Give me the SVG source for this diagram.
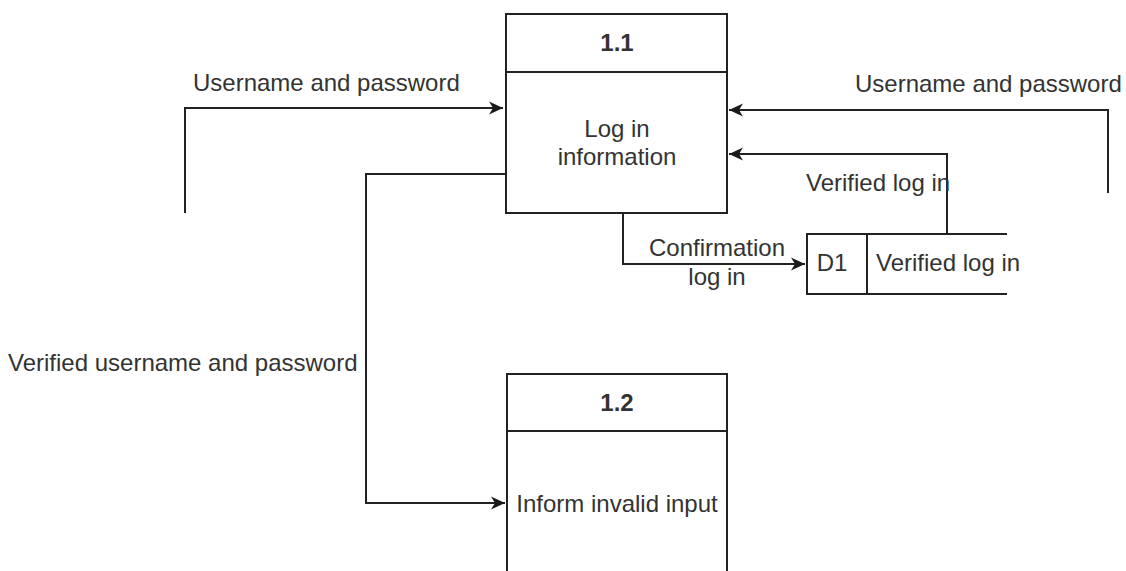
<svg xmlns="http://www.w3.org/2000/svg" width="1126" height="571" viewBox="0 0 1126 571">
  <style>
    .box { fill: #ffffff; stroke: #222222; stroke-width: 2; }
    .wire { fill: none; stroke: #222222; stroke-width: 2; }
    .lbl { font-family: "Liberation Sans", Arial, sans-serif; font-size: 24px; fill: #333333; }
    .mid { text-anchor: middle; }
    .bold { font-weight: bold; }
  </style>
  <defs>
    <marker id="arrow" markerUnits="userSpaceOnUse" markerWidth="15" markerHeight="14" refX="14" refY="7" orient="auto">
      <path d="M0,0.5 L14,7 L0,13.5 L4,7 Z" fill="#1a1a1a"/>
    </marker>
  </defs>

  <rect x="0" y="0" width="1126" height="571" fill="#ffffff"/>

  <!-- Process 1.1 -->
  <g id="process-1-1">
    <rect class="box" x="506" y="14" width="221" height="199"/>
    <line class="wire" x1="506" y1="72" x2="727" y2="72"/>
    <text class="lbl mid bold" x="617" y="51">1.1</text>
    <text class="lbl mid" x="617" y="137">Log in</text>
    <text class="lbl mid" x="617" y="165">information</text>
  </g>

  <!-- Process 1.2 -->
  <g id="process-1-2">
    <rect class="box" x="507" y="374" width="220" height="220"/>
    <line class="wire" x1="507" y1="431" x2="727" y2="431"/>
    <text class="lbl mid bold" x="617" y="411">1.2</text>
    <text class="lbl mid" x="617" y="512">Inform invalid input</text>
  </g>

  <!-- Data store D1 -->
  <g id="store-d1">
    <path class="wire" d="M1007,234 L807,234 L807,294 L1007,294"/>
    <line class="wire" x1="867" y1="234" x2="867" y2="294"/>
    <text class="lbl mid" x="832" y="271">D1</text>
    <text class="lbl" x="876" y="271">Verified log in</text>
  </g>

  <!-- Flows -->
  <g id="connectors">
    <path class="wire" d="M185,213 L185,108 L503,108" marker-end="url(#arrow)"/>
    <path class="wire" d="M1108,193 L1108,110 L729,110" marker-end="url(#arrow)"/>
    <path class="wire" d="M947,234 L947,154 L729,154" marker-end="url(#arrow)"/>
    <path class="wire" d="M623,213 L623,264 L805,264" marker-end="url(#arrow)"/>
    <path class="wire" d="M506,174 L366,174 L366,503 L505,503" marker-end="url(#arrow)"/>

    <text class="lbl" x="193" y="91">Username and password</text>
    <text class="lbl" x="855" y="92">Username and password</text>
    <text class="lbl" x="806" y="191">Verified log in</text>
    <text class="lbl mid" x="717" y="256">Confirmation</text>
    <text class="lbl mid" x="717" y="285">log in</text>
    <text class="lbl" x="8" y="371">Verified username and password</text>
  </g>
</svg>
